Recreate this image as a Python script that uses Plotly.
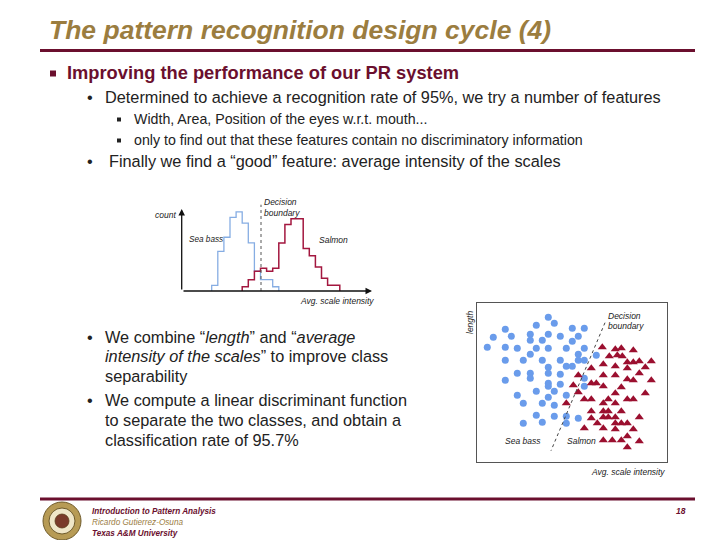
import plotly.graph_objects as go

W, H = 720, 540
OFF = 8  # the page body margin shifts the figure by 8 px
FONT = "Liberation Sans, Arial, sans-serif"

# ---------------- data ----------------
# histogram of average scale intensity (arbitrary units)
bin_start = 30.0
bin_width = 6.1
seabass_first_bin = 0
seabass_counts = [2, 14, 19, 26, 28, 24, 17, 7, 4, 4, 1.5]
salmon_first_bin = 5
salmon_counts = [1.5, 4, 7, 8, 7, 8, 17, 23.5, 25.5, 25.5, 15, 12.5, 8.5, 4.5, 2, 2]
hist_boundary_x = 79.3
hist_boundary_top = 30.5

# scatter: (avg. scale intensity, length) in arbitrary units
seabass_intensity = [71, 77, 59, 28, 95, 107, 16, 34, 53, 71, 83, 101, 53, 65, 10, 28, 40, 59, 71, 89,
                     107, 95, 53, 101, 119, 28, 46, 65, 83, 101, 107, 89, 95, 71, 40, 53, 71, 83, 53, 28,
                     71, 83, 71, 107, 107, 59, 77, 40, 71, 89, 46, 65, 77, 59, 77, 89, 101, 65, 46, 89]
seabass_length = [145, 139, 137, 133, 134, 134, 125, 126, 128, 128, 126, 126, 122, 122, 115, 115, 114, 114, 114, 114,
                  114, 121, 108, 108, 107, 102, 102, 102, 102, 102, 102, 96, 96, 95, 89, 89, 89, 88, 84, 82,
                  79, 78, 76, 84, 76, 71, 71, 67, 65, 67, 59, 59, 57, 47, 46, 46, 44, 40, 39, 39]
salmon_intensity = [125, 138, 144, 156, 132, 140, 145, 150, 156, 162, 174, 126, 138, 168, 114, 150, 101, 126, 138, 162,
                    150, 156, 174, 96, 114, 119, 126, 144, 101, 138, 168, 107, 114, 131, 150, 156, 89, 126, 138, 114,
                    126, 131, 144, 114, 126, 131, 138, 162, 120, 138, 144, 150, 107, 126, 138, 156, 150, 126, 135, 144,
                    162, 150]
salmon_length = [115, 113, 114, 112, 106, 107, 106, 100, 100, 101, 101, 98, 96, 95, 94, 94, 87, 87, 87, 89,
                 83, 82, 82, 77, 79, 79, 76, 75, 70, 69, 69, 63, 63, 63, 63, 63, 59, 59, 59, 51,
                 51, 51, 51, 44, 45, 45, 45, 45, 39, 39, 39, 39, 34, 34, 33, 33, 26, 22, 22, 22,
                 21, 15]
boundary_intensity = [127.7, 73.7]
boundary_length = [139.6, 11.6]


def px(x):
    return (x - OFF) / W


def py(y):
    return 1 - (y - OFF) / H


def step(first, counts):
    edges = [bin_start + bin_width * (first + i) for i in range(len(counts) + 1)]
    xs = [edges[0]] + edges
    ys = [0] + list(counts) + [0]
    return xs, ys


fig = go.Figure()

sx, sy = step(seabass_first_bin, seabass_counts)
fig.add_trace(go.Scatter(x=sx, y=sy, mode="lines", line=dict(shape="hv", color="#86ADE3", width=1.3),
                         xaxis="x", yaxis="y", hoverinfo="skip"))
rx, ry = step(salmon_first_bin, salmon_counts)
fig.add_trace(go.Scatter(x=rx, y=ry, mode="lines", line=dict(shape="hv", color="#A3173F", width=1.5),
                         xaxis="x", yaxis="y", hoverinfo="skip"))
fig.add_trace(go.Scatter(x=[hist_boundary_x, hist_boundary_x], y=[0, hist_boundary_top], mode="lines",
                         line=dict(color="#555", width=1, dash="dot"), xaxis="x", yaxis="y", hoverinfo="skip"))

fig.add_trace(go.Scatter(x=seabass_intensity, y=seabass_length, mode="markers",
                         marker=dict(symbol="circle", size=7, color="#6A9CEB"),
                         xaxis="x2", yaxis="y2"))
fig.add_trace(go.Scatter(x=salmon_intensity, y=salmon_length, mode="markers",
                         marker=dict(symbol="triangle-up", size=8, color="#9B0F2F"),
                         xaxis="x2", yaxis="y2"))
fig.add_trace(go.Scatter(x=boundary_intensity, y=boundary_length, mode="lines",
                         line=dict(color="#444", width=1, dash="dot"), xaxis="x2", yaxis="y2"))

ann = []


def txt(x, y, s, size, color="#222222", xanchor="left", angle=0):
    ann.append(dict(x=px(x), y=py(y), xref="paper", yref="paper", text=s, showarrow=False,
                    xanchor=xanchor, yanchor="middle", textangle=angle,
                    font=dict(family=FONT, size=size, color=color)))


GOLD = "#9B7D3F"
MAROON = "#6B0F2E"
BODY = 16.3
SUB = 14.2

txt(47, 30, "<b><i>The pattern recognition design cycle (4)</i></b>", 26.5, GOLD)
txt(65, 73, "<b>Improving the performance of our PR system</b>", 18.3, MAROON)
txt(85, 97, "•", BODY)
txt(103, 97, "Determined to achieve a recognition rate of 95%, we try a number of features", BODY)
txt(132, 119, "Width, Area, Position of the eyes w.r.t. mouth...", SUB)
txt(132, 140, "only to find out that these features contain no discriminatory information", SUB)
txt(85, 161, "•", BODY)
txt(107, 161, "Finally we find a “good” feature: average intensity of the scales", BODY)

txt(85, 337, "•", BODY)
txt(103, 337, "We combine “<i>length</i>” and “<i>average</i>", BODY)
txt(103, 356, "<i>intensity of the scales</i>” to improve class", BODY)
txt(103, 376, "separability", BODY)
txt(85, 400, "•", BODY)
txt(103, 400, "We compute a linear discriminant function", BODY)
txt(103, 420, "to separate the two classes, and obtain a", BODY)
txt(103, 440, "classification rate of 95.7%", BODY)

# histogram labels
txt(178, 215, "<i>count</i>", 8.5, xanchor="right")
txt(187, 240, "<i>Sea bass</i>", 8.2)
txt(262, 202, "<i>Decision</i>", 8.5)
txt(262, 212.5, "<i>boundary</i>", 8.5)
txt(317, 240, "<i>Salmon</i>", 8.5)
txt(298, 301, "<i>Avg. scale intensity</i>", 8.5)

# scatter labels
txt(470, 323, "<i>length</i>", 8.5, xanchor="center", angle=-90)
txt(606, 316, "<i>Decision</i>", 8.5)
txt(606, 326, "<i>boundary</i>", 8.5)
txt(503, 441, "<i>Sea bass</i>", 8.5)
txt(565, 441, "<i>Salmon</i>", 8.5)
txt(589, 472, "<i>Avg. scale intensity</i>", 8.5)

# footer
txt(90, 511, "<b><i>Introduction to Pattern Analysis</i></b>", 8.2, MAROON)
txt(90, 522, "<i>Ricardo Gutierrez-Osuna</i>", 8.2, GOLD)
txt(90, 533, "<b><i>Texas A&amp;M University</i></b>", 8.2, MAROON)
txt(688, 511, "<b><i>18</i></b>", 8.5, MAROON, xanchor="right")

# axis arrows of the histogram
ann.append(dict(x=px(372), y=py(291), xref="paper", yref="paper", ax=-190, ay=0, text="",
                showarrow=True, arrowhead=2, arrowsize=1, arrowwidth=1.3, arrowcolor="#111"))
ann.append(dict(x=px(181.7), y=py(209), xref="paper", yref="paper", ax=0, ay=82, text="",
                showarrow=True, arrowhead=2, arrowsize=1, arrowwidth=1.3, arrowcolor="#111"))

shapes = [
    dict(type="line", xref="paper", yref="paper", x0=px(40), x1=px(695), y0=py(50.5), y1=py(50.5),
         line=dict(color=MAROON, width=3)),
    dict(type="line", xref="paper", yref="paper", x0=px(40), x1=px(695), y0=py(499), y1=py(499),
         line=dict(color=MAROON, width=3)),
    dict(type="rect", xref="paper", yref="paper", x0=px(50), x1=px(56), y0=py(70.5), y1=py(76.5),
         fillcolor=MAROON, line=dict(width=0)),
    dict(type="rect", xref="paper", yref="paper", x0=px(117), x1=px(121), y0=py(117.5), y1=py(121.5),
         fillcolor="#222", line=dict(width=0)),
    dict(type="rect", xref="paper", yref="paper", x0=px(117), x1=px(121), y0=py(138.5), y1=py(142.5),
         fillcolor="#222", line=dict(width=0)),
    # logo seal
    dict(type="circle", xref="paper", yref="paper", x0=px(43), x1=px(81), y0=py(540), y1=py(502),
         fillcolor="#B79B55", line=dict(color="#6E5A2A", width=1)),
    dict(type="circle", xref="paper", yref="paper", x0=px(49), x1=px(75), y0=py(534), y1=py(508),
         fillcolor="#EFE6C8", line=dict(color="#6E5A2A", width=1)),
    dict(type="circle", xref="paper", yref="paper", x0=px(55), x1=px(69), y0=py(528), y1=py(514),
         fillcolor="#7A3A2A", line=dict(color="#5A3A1A", width=0.8)),
]

fig.update_layout(
    width=W, height=H, margin=dict(l=0, r=0, t=0, b=0),
    paper_bgcolor="white", plot_bgcolor="white", showlegend=False,
    annotations=ann, shapes=shapes,
    xaxis=dict(domain=[px(181.7), px(370)], range=[0, 188.3], visible=False, fixedrange=True),
    yaxis=dict(domain=[py(291), py(203.3)], range=[0, 31], visible=False, fixedrange=True),
    xaxis2=dict(domain=[px(477.3), px(666.7)], range=[0, 189.4], showline=True, mirror=True,
                linecolor="#555", linewidth=1.2, showgrid=False, zeroline=False, showticklabels=False,
                ticks="", anchor="y2"),
    yaxis2=dict(domain=[py(462.3), py(303.3)], range=[0, 159], showline=True, mirror=True,
                linecolor="#555", linewidth=1.2, showgrid=False, zeroline=False, showticklabels=False,
                ticks="", anchor="x2"),
)

fig.write_html("out.html")
